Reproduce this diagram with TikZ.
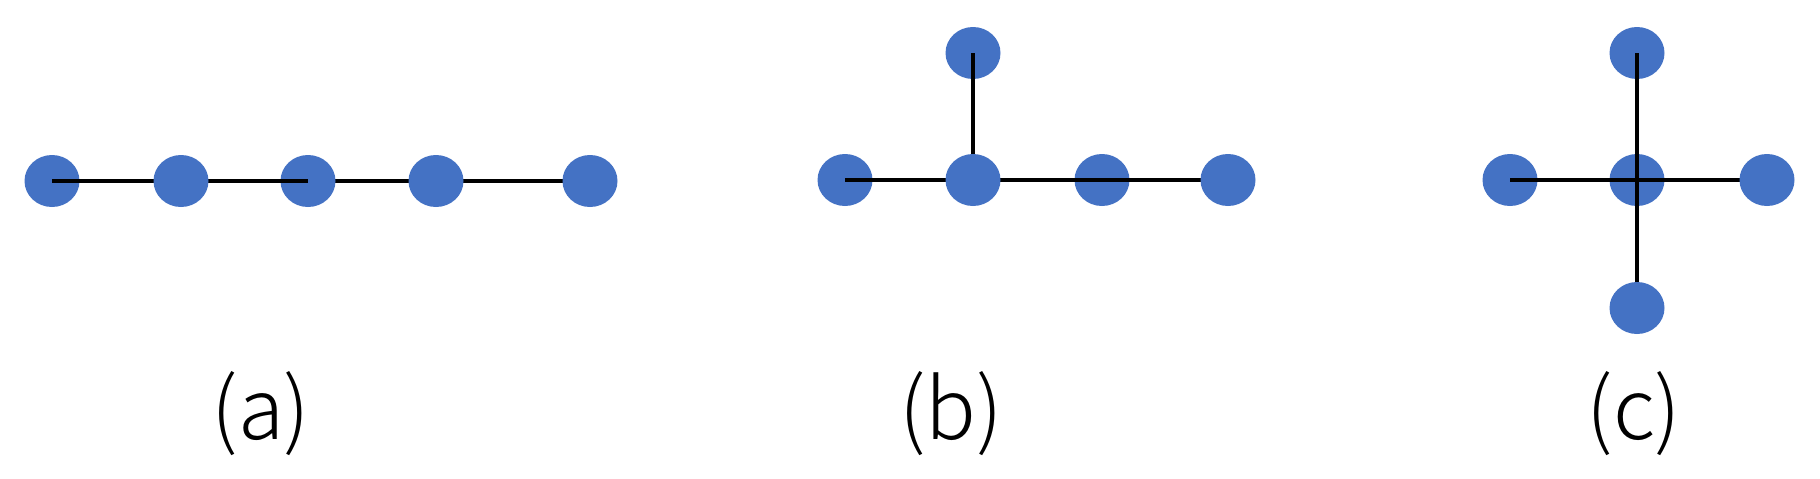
\documentclass[tikz,border=0pt]{standalone}
\usepackage{fontspec}
\setmainfont{Noto Sans CJK SC}[UprightFont=* Light]
\usetikzlibrary{shapes.geometric}
\definecolor{nodeblue}{RGB}{68,114,196}
\tikzset{
  vx/.style={ellipse,fill=nodeblue,inner sep=0pt,minimum width=55pt,minimum height=52pt},
  edge/.style={black,line width=3.5pt},
  captext/.style={font=\fontsize{84}{100}\selectfont,inner sep=0pt}
}
\begin{document}
\begin{tikzpicture}[x=1pt,y=-1pt]
\useasboundingbox (0,0) rectangle (1820,479);
% panel (a)
\coordinate (a1c) at (52,181);
\coordinate (a3c) at (308,181);
\coordinate (a5c) at (590,181);
\draw[edge] (a3c) -- (a5c);
\node[vx] (a1) at (a1c) {};
\node[vx] (a3) at (a3c) {};
\draw[edge] (a1.center) -- (a3.center);
\node[vx] (a2) at (181,181) {};
\node[vx] (a4) at (436,181) {};
\node[vx] (a5) at (a5c) {};
\node[captext] (la) at (261,414) {(a)};
% panel (b)
\node[vx] (bl) at (845,180) {};
\node[vx] (bt) at (973,53) {};
\node[vx] (b3) at (1102,180) {};
\coordinate (brc) at (1228,180);
\coordinate (bmc) at (973,180);
\draw[edge] (bl.center) -- (brc);
\draw[edge] (bt.center) -- (bmc);
\node[vx] (bm) at (bmc) {};
\node[vx] (br) at (brc) {};
\node[captext] (lb) at (951,414) {(b)};
% panel (c)
\node[vx] (cc) at (1637,180) {};
\node[vx] (ct) at (1637,53) {};
\node[vx] (cl) at (1510,180) {};
\coordinate (crc) at (1767,180);
\coordinate (cbc) at (1637,308);
\draw[edge] (cl.center) -- (crc);
\draw[edge] (ct.center) -- (cbc);
\node[vx] (cr) at (crc) {};
\node[vx] (cb) at (cbc) {};
\node[captext] (lc) at (1634,414) {(c)};
\end{tikzpicture}
\end{document}
